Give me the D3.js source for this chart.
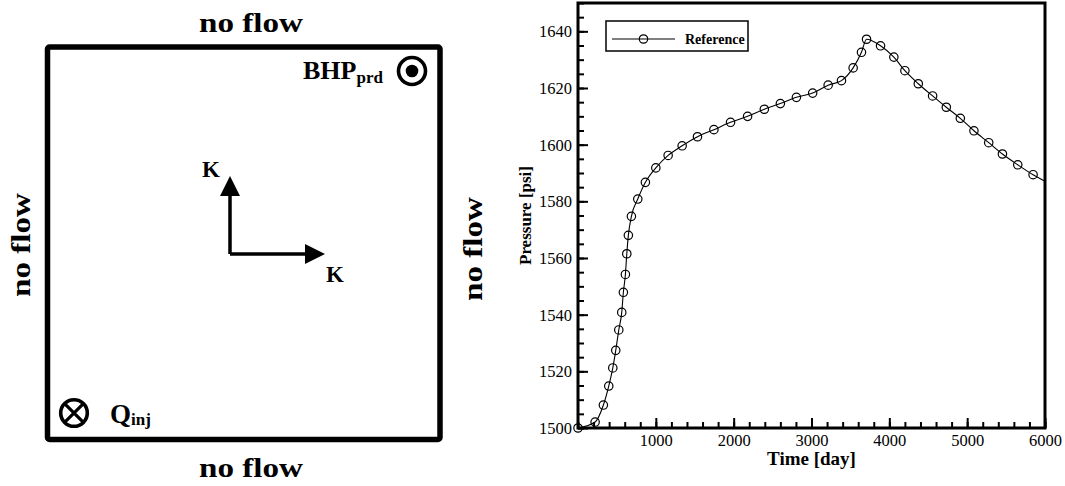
<!DOCTYPE html>
<html lang="en">
<head>
<meta charset="utf-8">
<title>Pressure history</title>
<script src="https://d3js.org/d3.v7.min.js"></script>
<style>
  body { margin: 0; background: #fff; }
  svg { display: block; }
  svg text { font-family: "Liberation Serif", "DejaVu Serif", serif; fill: #000; }
  .bold { font-weight: bold; }
</style>
</head>
<body>
<svg id="fig" width="1065" height="486"></svg>
<script>
// pressure curve (time in days, pressure in psi)
var timeDays = [0, 220, 326, 395, 447, 485, 524, 562, 583, 609, 627, 647, 686, 768, 866,
    1000, 1158, 1338, 1535, 1746, 1960, 2179, 2394, 2600, 2806, 3015, 3214, 3385, 3535,
    3642, 3707, 3887, 4058, 4200, 4372, 4556, 4732, 4912, 5087, 5277, 5453, 5650, 5847, 6000];
var pressurePsi = [1500, 1502.1, 1508.1, 1514.8, 1521.2, 1527.4, 1534.6, 1540.8, 1547.9,
    1554.2, 1561.5, 1568.0, 1574.7, 1580.8, 1586.7, 1591.8, 1596.2, 1599.6, 1602.8, 1605.3,
    1607.9, 1610.0, 1612.5, 1614.5, 1616.7, 1618.2, 1621.0, 1622.6, 1627.1, 1632.6, 1637.2,
    1634.9, 1630.9, 1626.1, 1621.5, 1617.2, 1613.2, 1609.3, 1604.9, 1600.7, 1596.7, 1592.9,
    1589.4, 1587.1];
// the last point only carries the line to the right edge, it has no marker
var markerCount = 43;

var xMajor = [1000, 2000, 3000, 4000, 5000, 6000];
var yMajor = [1500, 1520, 1540, 1560, 1580, 1600, 1620, 1640];
var legendLabel = "Reference";

var serif = "'Liberation Serif', 'DejaVu Serif', serif";

var svg = d3.select("#fig");

// ---------------- left: schematic of the domain ----------------
var left = svg.append("g");

left.append("rect")
    .attr("x", 47.5).attr("y", 47)
    .attr("width", 392.5).attr("height", 392.5)
    .attr("rx", 2)
    .attr("fill", "none")
    .attr("stroke", "#000")
    .attr("stroke-width", 5.5)
    .attr("stroke-linejoin", "round");

function noFlow(x, y, rot) {
    left.append("text")
        .attr("class", "bold")
        .attr("transform", "translate(" + x + "," + y + ") rotate(" + rot + ")")
        .attr("text-anchor", "middle")
        .attr("font-size", 27)
        .attr("textLength", 104)
        .attr("lengthAdjust", "spacingAndGlyphs")
        .text("no flow");
}
noFlow(251, 32, 0);
noFlow(251, 477, 0);
noFlow(30, 245, -90);
noFlow(482, 249, -90);

// producer
left.append("circle").attr("cx", 412).attr("cy", 71).attr("r", 13.5)
    .attr("fill", "none").attr("stroke", "#000").attr("stroke-width", 3.6);
left.append("circle").attr("cx", 412).attr("cy", 71).attr("r", 6.3).attr("fill", "#000");
var bhp = left.append("text").attr("class", "bold").attr("x", 303).attr("y", 79)
    .attr("font-size", 26);
bhp.append("tspan").text("BHP");
bhp.append("tspan").attr("font-size", 17).attr("dy", 4).text("prd");

// injector
left.append("circle").attr("cx", 74).attr("cy", 413).attr("r", 13.3)
    .attr("fill", "none").attr("stroke", "#000").attr("stroke-width", 3.6);
var d = 13.3 * Math.SQRT1_2;
left.append("path")
    .attr("d", "M" + (74 - d) + "," + (413 - d) + "L" + (74 + d) + "," + (413 + d) +
        "M" + (74 + d) + "," + (413 - d) + "L" + (74 - d) + "," + (413 + d))
    .attr("stroke", "#000").attr("stroke-width", 3.2);
var q = left.append("text").attr("class", "bold").attr("x", 110).attr("y", 423)
    .attr("font-size", 27);
q.append("tspan").text("Q");
q.append("tspan").attr("font-size", 17).attr("dy", 2).text("inj");

// permeability arrows
left.append("path").attr("d", "M230,254L230,193M230,254L308,254")
    .attr("fill", "none").attr("stroke", "#000").attr("stroke-width", 3.5);
left.append("path").attr("d", "M230,176L240,196L220,196Z").attr("fill", "#000");
left.append("path").attr("d", "M325,254L305,244L305,264Z").attr("fill", "#000");
left.append("text").attr("class", "bold").attr("x", 211).attr("y", 177)
    .attr("text-anchor", "middle").attr("font-size", 23).text("K");
left.append("text").attr("class", "bold").attr("x", 335).attr("y", 282)
    .attr("text-anchor", "middle").attr("font-size", 23).text("K");

// ---------------- right: pressure vs time ----------------
var plot = {left: 578, right: 1045, top: 3, bottom: 428};

var x = d3.scaleLinear().domain([0, 6000]).range([plot.left, plot.right]);
var y = d3.scaleLinear().domain([1500, 1650]).range([plot.bottom, plot.top]);

var chart = svg.append("g");

// minor ticks
chart.append("g")
    .attr("transform", "translate(0," + plot.bottom + ")")
    .call(d3.axisBottom(x).tickValues(d3.range(0, 6001, 200)).tickSize(-6).tickFormat(""));
chart.append("g")
    .attr("transform", "translate(" + plot.left + ",0)")
    .call(d3.axisLeft(y).tickValues(d3.range(1500, 1651, 5)).tickSize(-6).tickFormat(""));

// major ticks with labels
chart.append("g")
    .attr("class", "xmajor")
    .attr("transform", "translate(0," + plot.bottom + ")")
    .call(d3.axisBottom(x).tickValues(xMajor).tickSize(-10).tickFormat(d3.format("d")));
chart.append("g")
    .attr("class", "ymajor")
    .attr("transform", "translate(" + plot.left + ",0)")
    .call(d3.axisLeft(y).tickValues(yMajor).tickSize(-10).tickFormat(d3.format("d")));

chart.selectAll("g").attr("font-family", serif);
chart.selectAll(".domain").remove();
chart.selectAll(".tick line").attr("stroke", "#000").attr("stroke-width", 2);
chart.selectAll(".tick text")
    .attr("font-size", 16.5)
    .attr("fill", "#000");
chart.selectAll(".xmajor .tick text").attr("y", 6).attr("dy", "0.71em");
chart.selectAll(".ymajor .tick text").attr("x", -6).attr("dy", "0.34em");

// frame
chart.append("rect")
    .attr("x", plot.left).attr("y", plot.top)
    .attr("width", plot.right - plot.left).attr("height", plot.bottom - plot.top)
    .attr("fill", "none").attr("stroke", "#000").attr("stroke-width", 3);

// the curve
var points = timeDays.map(function (t, i) { return [t, pressurePsi[i]]; });

chart.append("path")
    .datum(points)
    .attr("fill", "none")
    .attr("stroke", "#000")
    .attr("stroke-width", 1.1)
    .attr("d", d3.line()
        .x(function (p) { return x(p[0]); })
        .y(function (p) { return y(p[1]); })
        .curve(d3.curveMonotoneX));

chart.selectAll(".marker")
    .data(points.slice(0, markerCount))
    .enter().append("circle")
    .attr("class", "marker")
    .attr("cx", function (p) { return x(p[0]); })
    .attr("cy", function (p) { return y(p[1]); })
    .attr("r", 4.2)
    .attr("fill", "none")
    .attr("stroke", "#000")
    .attr("stroke-width", 1.2);

// axis titles
chart.append("text").attr("class", "bold")
    .attr("x", (plot.left + plot.right) / 2).attr("y", 465)
    .attr("text-anchor", "middle").attr("font-size", 19)
    .text("Time [day]");
chart.append("text").attr("class", "bold")
    .attr("transform", "translate(531," + (plot.top + plot.bottom) / 2 + ") rotate(-90)")
    .attr("text-anchor", "middle").attr("font-size", 17)
    .text("Pressure [psi]");

// legend
var legend = chart.append("g");
legend.append("rect")
    .attr("x", 606).attr("y", 21).attr("width", 142).attr("height", 30)
    .attr("fill", "#fff").attr("stroke", "#000").attr("stroke-width", 1.5);
legend.append("line")
    .attr("x1", 612).attr("x2", 675).attr("y1", 39).attr("y2", 39)
    .attr("stroke", "#000").attr("stroke-width", 1.1);
legend.append("circle")
    .attr("cx", 643.5).attr("cy", 39).attr("r", 4.2)
    .attr("fill", "none").attr("stroke", "#000").attr("stroke-width", 1.2);
legend.append("text").attr("class", "bold")
    .attr("x", 685).attr("y", 43.5).attr("font-size", 14)
    .text(legendLabel);
</script>
</body>
</html>
